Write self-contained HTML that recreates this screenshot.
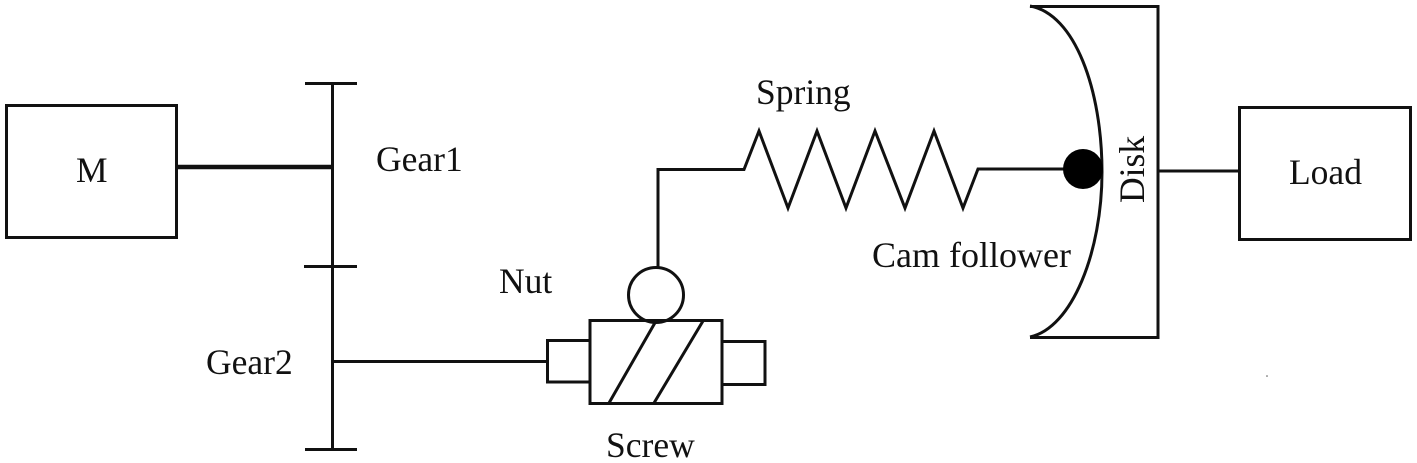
<!DOCTYPE html>
<html>
<head>
<meta charset="utf-8">
<style>
html,body{margin:0;padding:0;background:#fff;width:1417px;height:463px;overflow:hidden}
svg{display:block}
text{font-family:"Liberation Serif",serif;font-size:35.500px;fill:#111}
</style>
</head>
<body>
<svg width="1417" height="463" viewBox="0 0 1417 463" xmlns="http://www.w3.org/2000/svg">
<g fill="none" stroke="#111" stroke-width="3">
<rect x="6.500" y="105.500" width="170" height="132"/>
<path d="M177 167H333" stroke-width="4.500"/>
<path d="M332.500 83V450M305 83.500H357M304 266.500H357M305 449.500H357"/>
<path d="M333 361.500H548"/>
<path d="M590 340.500H547.500V382H590"/>
<rect x="590" y="320.500" width="132" height="83"/>
<path d="M722 341.500H765V384.500H722"/>
<path d="M609 403L656 321M654 403L703 321"/>
<circle cx="656" cy="295" r="27.500"/>
<path d="M658 267V169.500H744L759 131L788 208L817 131L846 208L875 131L905 208L934 131L963 208L978 169H1065"/>
<path d="M1030 6C1075 14 1102 90 1102 172C1102 252 1072 328 1030 337"/>
<path d="M1030 6.500H1158V337.500H1030"/>
<path d="M1158 171H1239"/>
<rect x="1239.500" y="107.500" width="171" height="132"/>
</g>
<circle cx="1083" cy="169" r="20" fill="#000"/>
<circle cx="1267" cy="376" r="0.800" fill="#555"/>
<text x="76" y="182">M</text>
<text x="376" y="171">Gear1</text>
<text x="206" y="374">Gear2</text>
<text x="499" y="293">Nut</text>
<text x="606" y="457">Screw</text>
<text x="756" y="104">Spring</text>
<text x="872" y="267" style="font-size:36px">Cam follower</text>
<text x="1289" y="184">Load</text>
<text transform="translate(1144,203) rotate(-90)">Disk</text>
</svg>
</body>
</html>
